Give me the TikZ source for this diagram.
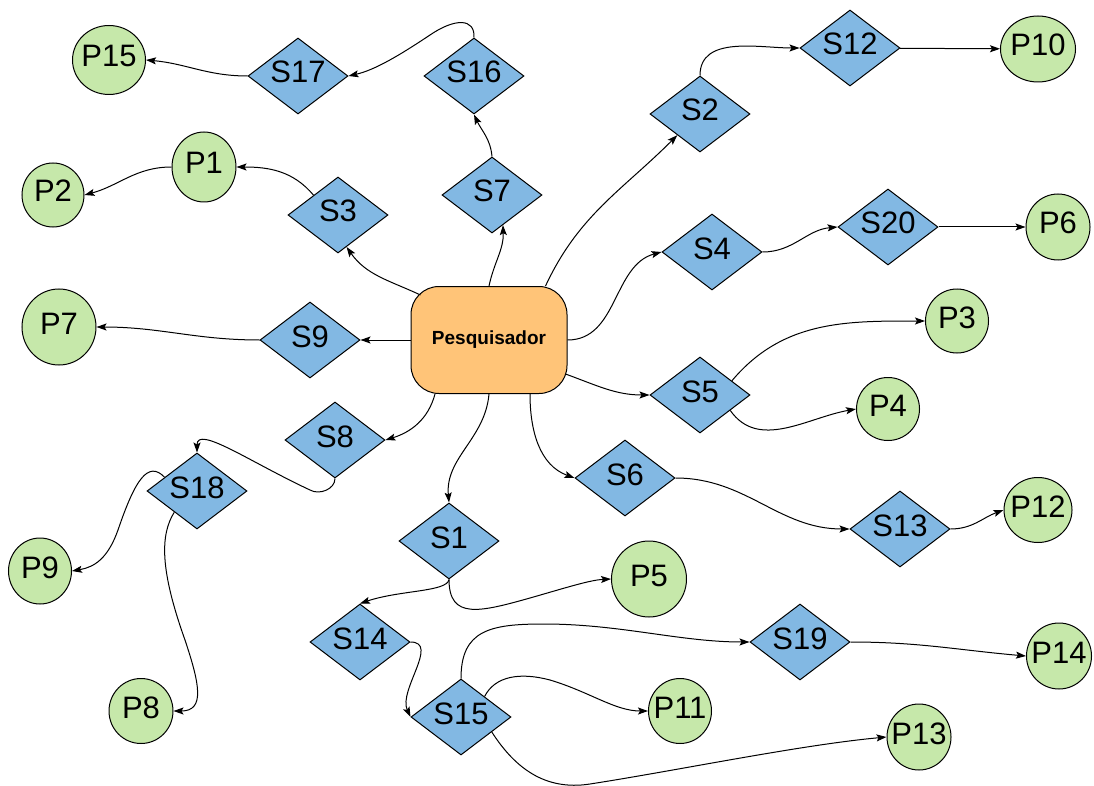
\documentclass[tikz,border=0pt]{standalone}
\usepackage{fontspec}
\setmainfont{Liberation Sans}
\usepackage{tikz}
\usetikzlibrary{arrows.meta,shapes.geometric,calc}
\definecolor{pesqorange}{RGB}{255,196,120}
\definecolor{stepblue}{RGB}{130,184,227}
\definecolor{prodgreen}{RGB}{198,232,170}

\begin{document}
\begin{tikzpicture}[x=1pt,y=-1pt,line width=1pt,
  snode/.style={diamond,draw,fill=stepblue,shape aspect=1.316,inner sep=0pt,
                minimum width=100pt,minimum height=76pt,
                font=\fontsize{31}{31}\selectfont,text height=14pt,text depth=0pt},
  pnode/.style={ellipse,draw,fill=prodgreen,inner xsep=-8pt,inner ysep=0pt,
                minimum width=64pt,minimum height=66pt,
                font=\fontsize{31}{31}\selectfont,text height=14pt,text depth=0pt},
  arrow/.style={-{Stealth[length=10pt,width=7pt,inset=2pt]},line width=1pt}
]
\useasboundingbox (0,0) rectangle (1094,786);

\node[draw,fill=pesqorange,rounded corners=28pt,minimum width=156pt,minimum height=107pt,
      font=\bfseries\fontsize{19}{19}\selectfont] (pesq) at (489,340) {Pesquisador};

\node[snode] (S12) at (850,48) {S12};
\node[snode] (S2) at (700,114) {S2};
\node[snode] (S16) at (474,76) {S16};
\node[snode] (S17) at (298,76) {S17};
\node[snode] (S7) at (492,195) {S7};
\node[snode] (S3) at (338,215) {S3};
\node[snode] (S4) at (712,252) {S4};
\node[snode] (S20) at (888,227) {S20};
\node[snode] (S9) at (310,340) {S9};
\node[snode] (S5) at (700,395) {S5};
\node[snode] (S8) at (335,440) {S8};
\node[snode] (S18) at (197,491) {S18};
\node[snode] (S6) at (625,478) {S6};
\node[snode] (S13) at (900,529) {S13};
\node[snode] (S1) at (449,541) {S1};
\node[snode] (S14) at (360,642) {S14};
\node[snode] (S15) at (461,717) {S15};
\node[snode] (S19) at (800,642) {S19};

\node[pnode,minimum width=73pt,minimum height=69pt] (P15) at (109,60) {P15};
\node[pnode,minimum width=75pt] (P10) at (1038,49) {P10};
\node[pnode,minimum height=70pt] (P1) at (204,167) {P1};
\node[pnode,minimum width=62pt,minimum height=64pt] (P2) at (53,195) {P2};
\node[pnode] (P6) at (1058,227) {P6};
\node[pnode,minimum width=74pt,minimum height=76pt] (P7) at (59,327) {P7};
\node[pnode,minimum width=63pt,minimum height=64pt] (P3) at (957,321) {P3};
\node[pnode,minimum width=63pt,minimum height=63pt] (P4) at (888,409) {P4};
\node[pnode,minimum width=68pt,minimum height=65pt] (P12) at (1038,510) {P12};
\node[pnode,minimum width=63pt] (P9) at (40,571) {P9};
\node[pnode,minimum height=65pt] (P8) at (141,711) {P8};
\node[pnode,minimum width=75pt,minimum height=76pt] (P5) at (649,579) {P5};
\node[pnode,minimum width=65pt] (P14) at (1059,656) {P14};
\node[pnode,minimum width=63pt,minimum height=65pt] (P11) at (680,711) {P11};
\node[pnode] (P13) at (919,737) {P13};

% out of Pesquisador
\draw[arrow] ([shift={(10,9)}]pesq.north west) to[out=155,in=-55] (S3.-75);
\draw[arrow] (pesq.north) to[out=78,in=-88] (S7.-70);
\draw[arrow] ([xshift=-22pt]pesq.north east) to[out=65,in=-135] (S2.-137);
\draw[arrow] (pesq.east) to[out=0,in=195] (S4.west);
\draw[arrow] ([shift={(-2,-20)}]pesq.south east) to[out=-20,in=180] (S5.west);
\draw[arrow] ([xshift=41pt]pesq.south) to[out=-90,in=160] (S6.west);
\draw[arrow] (pesq.south) to[out=-95,in=95] (S1.north);
\draw[arrow] ([xshift=-54pt]pesq.south) to[out=-105,in=17] (S8.east);
\draw[arrow] (pesq.west) -- (S9.east);

% upper left
\draw[arrow] (S7.north) to[out=95,in=-65] (S16.south);
\draw[arrow] (S16.north) .. controls (475,18) and (455,18) .. (430,35)
  .. controls (400,55) and (375,70) .. (S17.east);
\draw[arrow] (S17.west) to[out=180,in=-5] (P15.east);
\draw[arrow] (S3.141) to[out=130,in=0] (P1.east);
\draw[arrow] (P1.west) to[out=180,in=15] (P2.east);
\draw[arrow] (S9.west) to[out=180,in=0] (P7.east);

% right side
\draw[arrow] (S2.north) to[out=90,in=180] (S12.west);
\draw[arrow] (S12) -- (P10);
\draw[arrow] (S4.east) to[out=0,in=185] (S20.west);
\draw[arrow] (S20) -- (P6);
\draw[arrow] (S5.24) to[out=50,in=180] (P3.west);
\draw[arrow] (S5.-27) to[out=-55,in=190] (P4.west);
\draw[arrow] (S6.east) to[out=0,in=180] (S13.west);
\draw[arrow] (S13.east) to[out=0,in=200] (P12.west);

% lower left
\draw[arrow] (S8.south) to[out=-90,in=-30] (310,490)
  .. controls (250,462) and (197,425) .. (S18.north);
\draw[arrow] (S18.157) .. controls (148,460) and (135,480) .. (118,530)
  .. controls (108,558) and (95,567) .. (P9.east);
\draw[arrow] (S18.-137) .. controls (160,535) and (160,570) .. (185,640)
  .. controls (200,685) and (205,711) .. (P8.east);

% lower middle
\draw[arrow] (S1.south) .. controls (447,592) and (400,590) .. (S14.north);
\draw[arrow] (S1.south) .. controls (449,620) and (480,612) .. (530,598)
  .. controls (565,588) and (590,580) .. (P5.west);
\draw[arrow] (S14.east) to[out=0,in=115] (S15.west);
\draw[arrow] (S15.north) .. controls (461,630) and (490,624) .. (544,624)
  .. controls (620,624) and (680,642) .. (S19.west);
\draw[arrow] (S15.41) .. controls (495,676) and (520,672) .. (550,680)
  .. controls (590,692) and (615,711) .. (P11.west);
\draw[arrow] (S15.-26) .. controls (515,768) and (545,791) .. (590,784)
  .. controls (680,770) and (800,745) .. (P13.west);
\draw[arrow] (S19.east) to[out=0,in=175] (P14.west);
\end{tikzpicture}
\end{document}
